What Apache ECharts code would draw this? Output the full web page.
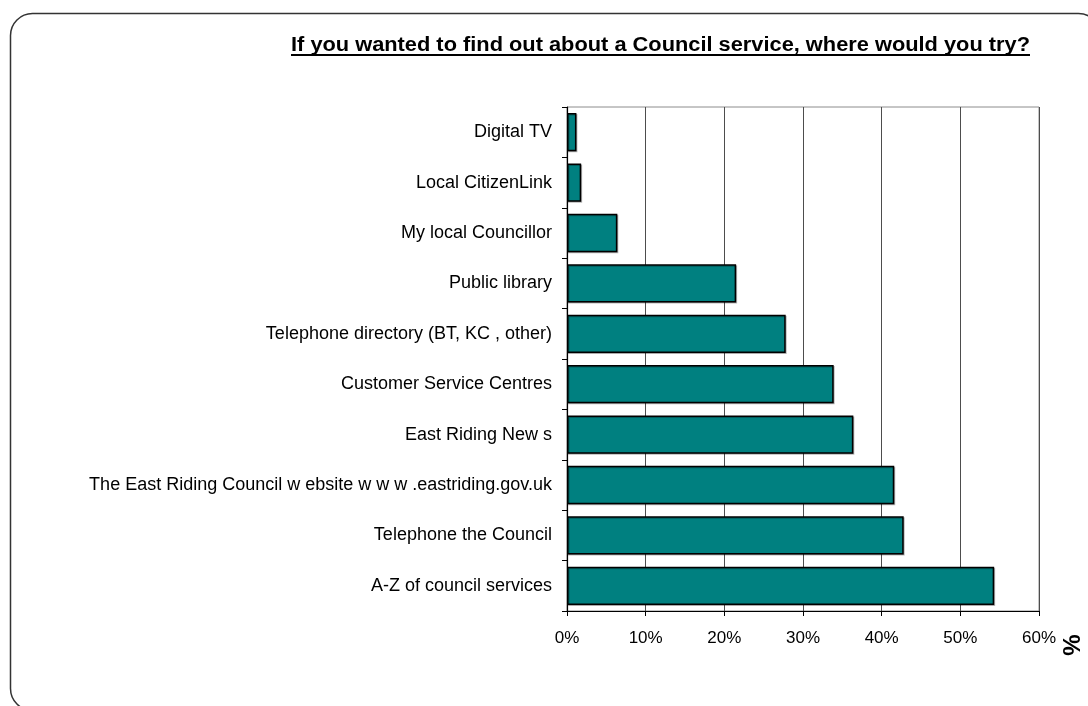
<!DOCTYPE html>
<html>
<head>
<meta charset="utf-8">
<script src="https://cdn.jsdelivr.net/npm/echarts@6/dist/echarts.min.js"></script>
<style>
  html, body { margin: 0; padding: 0; background: #fff; }
  #chart { width: 1088px; height: 706px; }
</style>
</head>
<body>
<div id="chart"></div>
<script>
// Survey answers, listed top to bottom
const categories = [
  'Digital TV',
  'Local CitizenLink',
  'My local Councillor',
  'Public library',
  'Telephone directory (BT, KC , other)',
  'Customer Service Centres',
  'East Riding New s',
  'The East Riding Council w ebsite w w w .eastriding.gov.uk',
  'Telephone the Council',
  'A-Z of council services'
];
// Share of respondents (%)
const shares = [1.2, 1.8, 6.4, 21.5, 27.8, 33.9, 36.4, 41.6, 42.8, 54.3];

const titleText = 'If you wanted to find out about a Council service, where would you try?';
const titleFont = 'bold 20px "Liberation Sans", Arial, sans-serif';
const titleLeft = 291;
const titleSpan = 739;
const titleY = 45;

// measure the title so it can be stretched to its box and underlined
const ctx = document.createElement('canvas').getContext('2d');
ctx.font = titleFont;
const titleW = ctx.measureText(titleText).width;

const chart = echarts.init(document.getElementById('chart'), null, { renderer: 'canvas' });

chart.setOption({
  backgroundColor: '#ffffff',
  animation: false,
  grid: {
    left: 567, right: 49, top: 107, bottom: 95,
    show: true, borderColor: '#8c8c8c', borderWidth: 1, backgroundColor: 'transparent'
  },
  xAxis: {
    type: 'value',
    min: 0, max: 60, interval: 10,
    axisLine: { show: true, lineStyle: { color: '#000', width: 1.2 } },
    axisTick: { show: true, length: 5, lineStyle: { color: '#000' } },
    axisLabel: {
      formatter: '{value}%', margin: 19,
      fontFamily: '"Liberation Sans", Arial, sans-serif', fontSize: 17, color: '#000'
    },
    splitLine: { show: true, lineStyle: { color: '#4d4d4d', width: 1 } }
  },
  yAxis: {
    type: 'category',
    inverse: true,
    data: categories,
    axisLine: { show: true, lineStyle: { color: '#000', width: 1.2 } },
    axisTick: { show: true, length: 5, lineStyle: { color: '#000' } },
    axisLabel: {
      margin: 15,
      fontFamily: '"Liberation Sans", Arial, sans-serif', fontSize: 18, color: '#000'
    }
  },
  series: [{
    type: 'bar',
    data: shares,
    barCategoryGap: '24%',
    itemStyle: {
      color: '#008080',
      borderColor: '#000',
      borderWidth: 1.5,
      shadowColor: 'rgba(0,0,0,0.28)',
      shadowOffsetX: 1,
      shadowOffsetY: 1,
      shadowBlur: 0
    }
  }],
  graphic: [
    {
      type: 'rect',
      shape: { x: 10.5, y: 13.5, width: 1090, height: 697, r: 22 },
      style: { fill: 'none', stroke: '#333', lineWidth: 1.5 },
      silent: true, z: -1
    },
    {
      type: 'text',
      x: titleLeft, y: titleY,
      scaleX: titleSpan / titleW,
      style: {
        text: titleText, font: titleFont, fill: '#000',
        align: 'left', verticalAlign: 'middle'
      }
    },
    {
      type: 'line',
      shape: { x1: titleLeft, y1: titleY + 10, x2: titleLeft + titleSpan, y2: titleY + 10 },
      style: { stroke: '#000', lineWidth: 2 }
    },
    {
      type: 'text',
      x: 1073, y: 645,
      rotation: Math.PI / 2,
      style: {
        text: '%', font: 'bold 24px "Liberation Sans", Arial, sans-serif',
        fill: '#000', align: 'center', verticalAlign: 'middle'
      }
    }
  ]
});
</script>
</body>
</html>
